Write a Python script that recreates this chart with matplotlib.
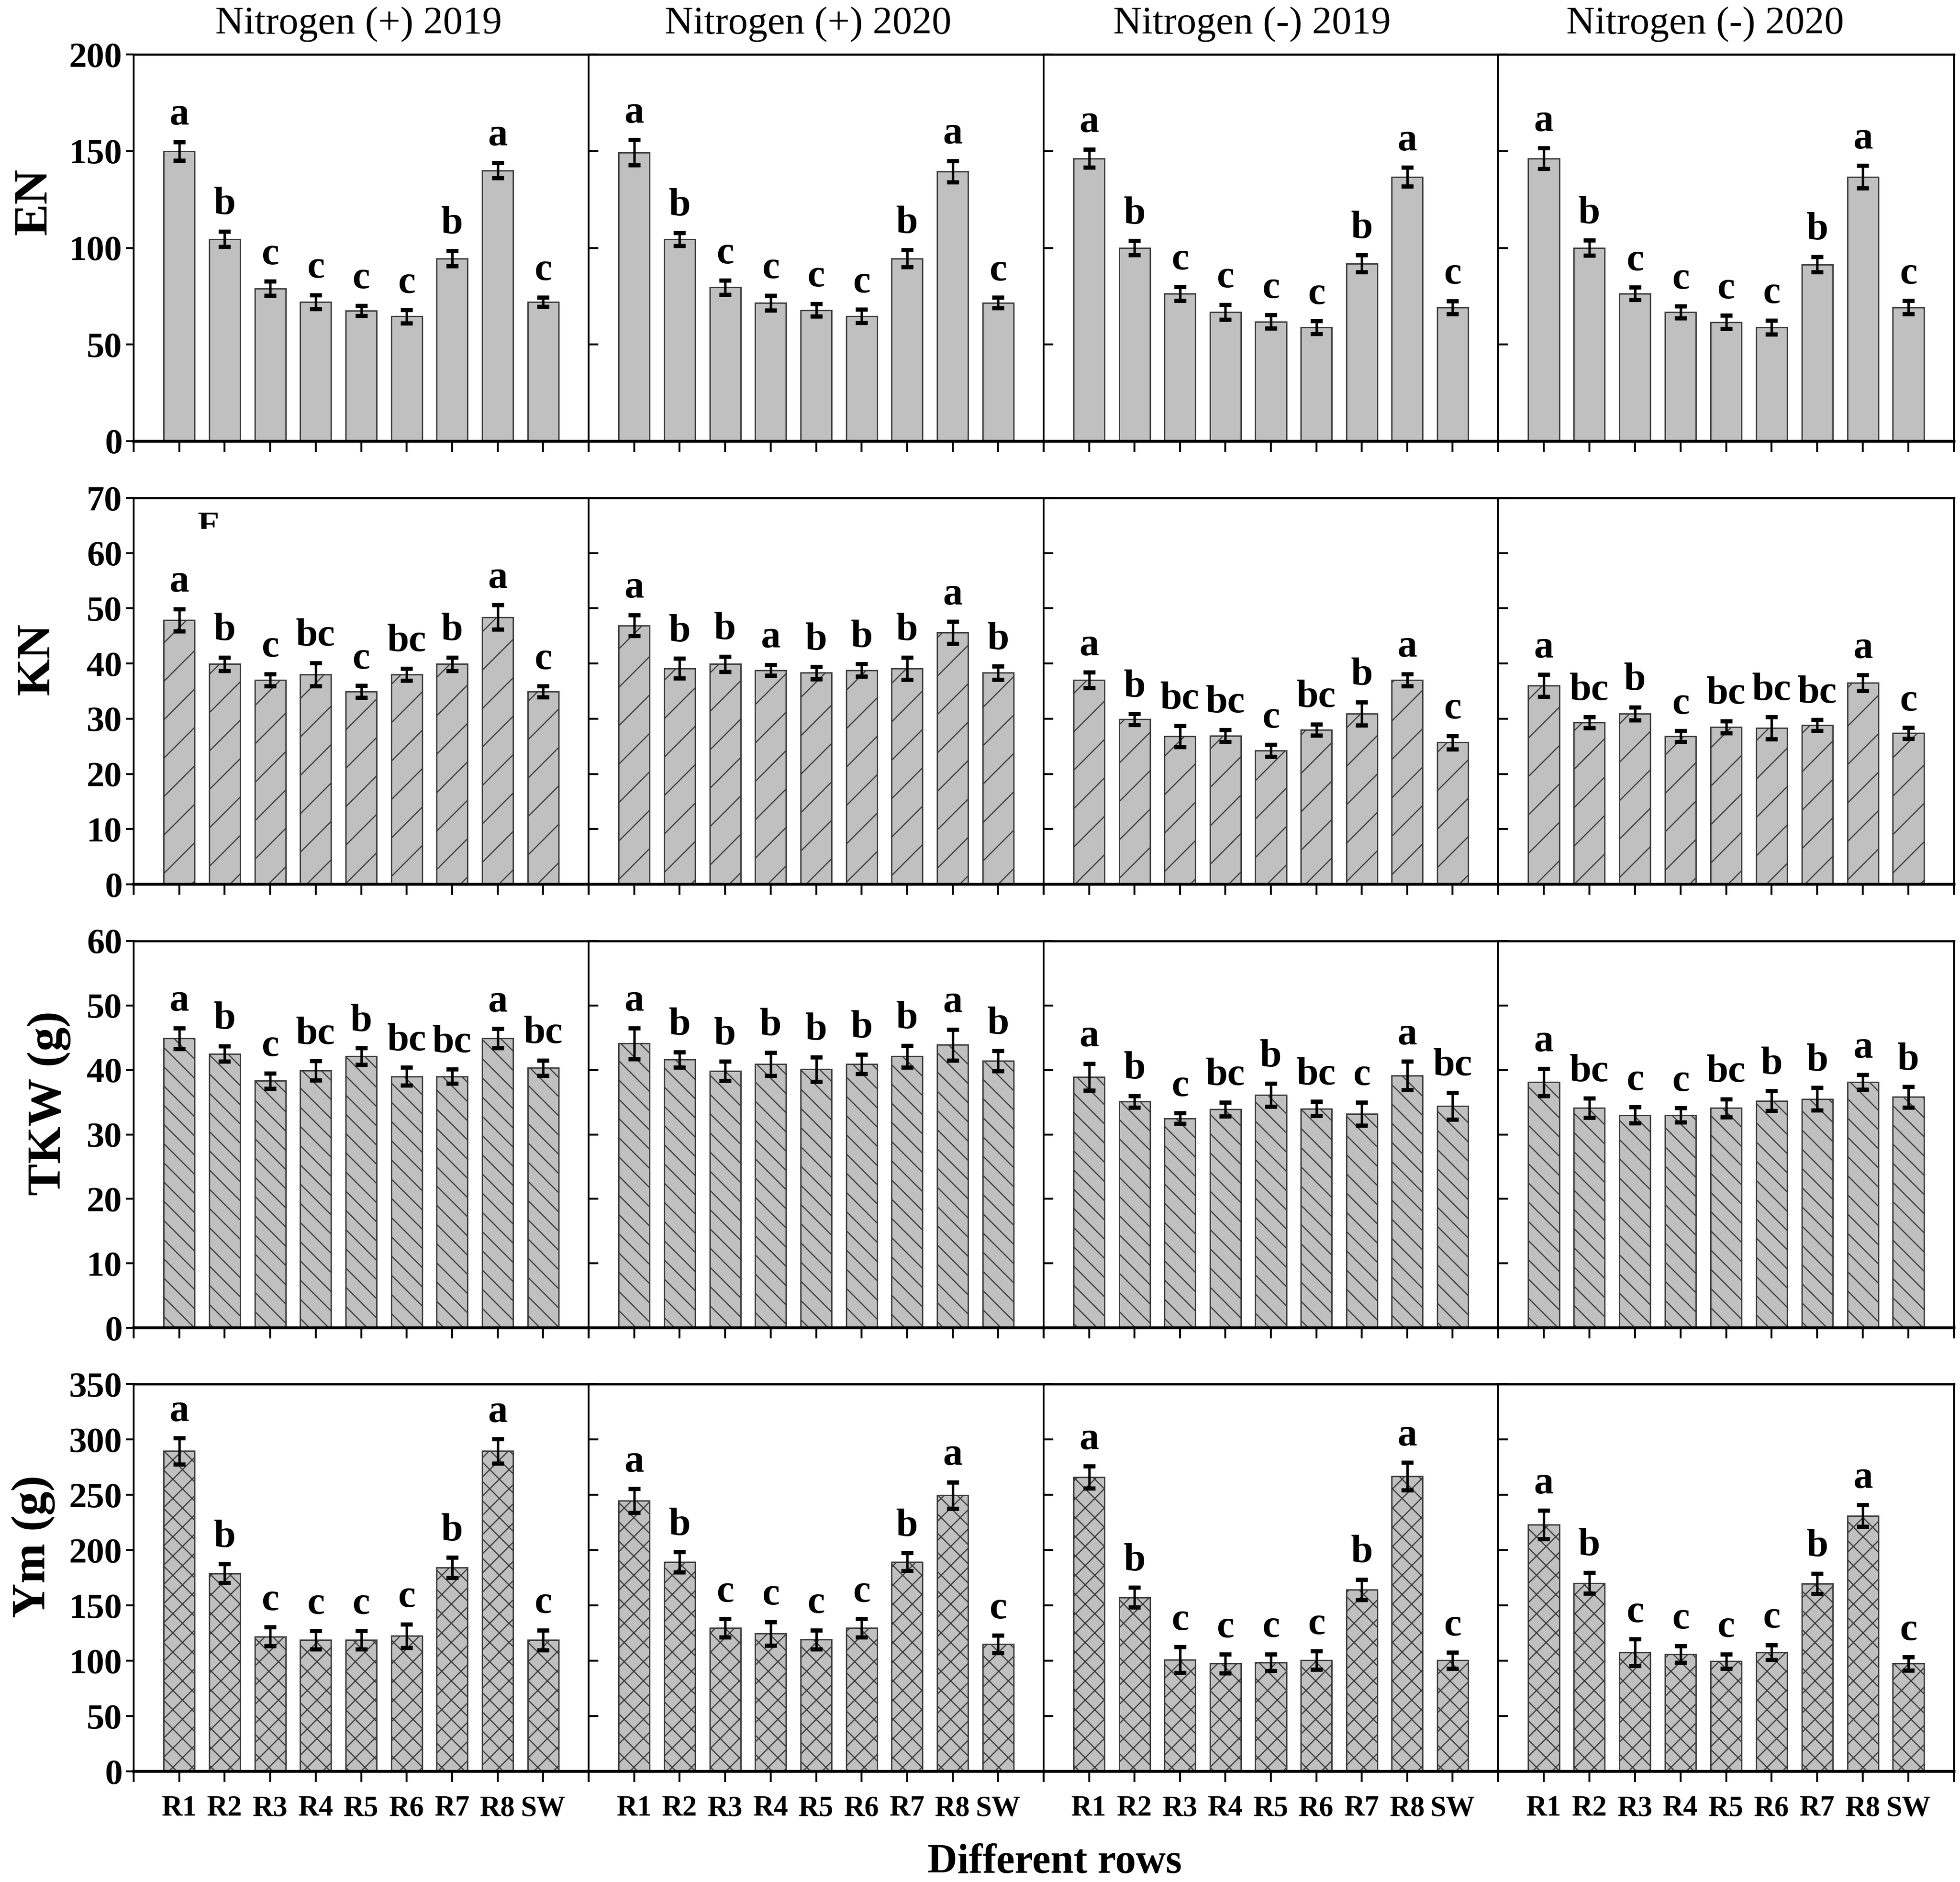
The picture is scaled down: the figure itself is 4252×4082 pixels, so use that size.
import matplotlib
matplotlib.use('Agg')
import matplotlib.pyplot as plt
from matplotlib.patches import Rectangle

# ---------------- data ----------------
categories = ['R1', 'R2', 'R3', 'R4', 'R5', 'R6', 'R7', 'R8', 'SW']
panel_titles = ['Nitrogen (+) 2019', 'Nitrogen (+) 2020',
                'Nitrogen (-) 2019', 'Nitrogen (-) 2020']
metric_labels = ['EN', 'KN', 'TKW (g)', 'Ym (g)']
y_max = [200, 70, 60, 350]
y_step = [50, 10, 10, 50]

en_means = [
    [150, 104.5, 79, 72, 67.5, 64.5, 94.5, 140, 72],
    [149.3, 104.4, 79.5, 71.6, 67.8, 64.7, 94.5, 139.5, 71.6],
    [146.2, 100, 76.3, 66.8, 61.8, 58.9, 91.8, 136.7, 69.2],
    [146.2, 100, 76.3, 66.8, 61.6, 58.9, 91.4, 136.7, 69.2],
]
en_errs = [
    [4.8, 4.0, 3.7, 3.6, 2.7, 3.4, 4.0, 4.0, 2.4],
    [6.5, 3.4, 3.6, 3.8, 3.3, 3.4, 4.4, 5.5, 2.7],
    [4.7, 3.6, 3.6, 3.8, 3.4, 3.3, 4.4, 4.8, 3.3],
    [5.3, 3.9, 3.2, 3.1, 3.4, 3.6, 4.0, 5.8, 3.4],
]
en_letters = [
    ['a', 'b', 'c', 'c', 'c', 'c', 'b', 'a', 'c'],
    ['a', 'b', 'c', 'c', 'c', 'c', 'b', 'a', 'c'],
    ['a', 'b', 'c', 'c', 'c', 'c', 'b', 'a', 'c'],
    ['a', 'b', 'c', 'c', 'c', 'c', 'b', 'a', 'c'],
]

kn_means = [
    [47.9, 39.9, 37, 38, 34.9, 38, 39.9, 48.4, 34.9],
    [46.9, 39.1, 39.9, 38.8, 38.3, 38.8, 39.1, 45.6, 38.3],
    [37, 29.9, 26.8, 26.9, 24.2, 28, 30.9, 37, 25.7],
    [36, 29.3, 30.9, 26.8, 28.5, 28.3, 28.8, 36.5, 27.4],
]
kn_errs = [
    [2.0, 1.2, 1.1, 2.1, 1.1, 1.1, 1.2, 2.2, 1.0],
    [1.9, 1.8, 1.4, 1.0, 1.1, 1.1, 2.0, 2.0, 1.2],
    [1.4, 1.0, 1.9, 1.1, 1.1, 1.0, 2.1, 1.1, 1.2],
    [2.0, 1.0, 1.2, 1.0, 1.1, 2.0, 1.0, 1.4, 1.0],
]
kn_letters = [
    ['a', 'b', 'c', 'bc', 'c', 'bc', 'b', 'a', 'c'],
    ['a', 'b', 'b', 'a', 'b', 'b', 'b', 'a', 'b'],
    ['a', 'b', 'bc', 'bc', 'c', 'bc', 'b', 'a', 'c'],
    ['a', 'bc', 'b', 'c', 'bc', 'bc', 'bc', 'a', 'c'],
]

tkw_means = [
    [44.9, 42.5, 38.3, 39.9, 42.1, 39, 39, 44.9, 40.3],
    [44.1, 41.6, 39.8, 40.9, 40.1, 40.9, 42.1, 43.9, 41.4],
    [38.9, 35.1, 32.5, 33.9, 36.1, 34.0, 33.2, 39.1, 34.4],
    [38.1, 34.1, 33, 33, 34.1, 35.2, 35.5, 38.1, 35.8],
]
tkw_errs = [
    [1.6, 1.2, 1.2, 1.5, 1.3, 1.4, 1.1, 1.5, 1.2],
    [2.4, 1.2, 1.5, 1.8, 1.9, 1.5, 1.7, 2.4, 1.55],
    [2.1, 0.9, 0.8, 1.1, 1.8, 1.1, 1.8, 2.2, 2.1],
    [2.1, 1.5, 1.25, 1.1, 1.4, 1.55, 1.75, 1.15, 1.6],
]
tkw_letters = [
    ['a', 'b', 'c', 'bc', 'b', 'bc', 'bc', 'a', 'bc'],
    ['a', 'b', 'b', 'b', 'b', 'b', 'b', 'a', 'b'],
    ['a', 'b', 'c', 'bc', 'b', 'bc', 'c', 'a', 'bc'],
    ['a', 'bc', 'c', 'c', 'bc', 'b', 'b', 'a', 'b'],
]

ym_means = [
    [289.4, 178.9, 121.8, 118.6, 118.6, 122.4, 184.2, 289.4, 118.6],
    [244.6, 189.2, 129.5, 124.4, 119, 129.5, 189.2, 249.4, 115],
    [265.7, 157.2, 100.9, 97.3, 98.5, 100.3, 164.2, 266.6, 100.3],
    [222.9, 170.2, 107.5, 106, 99.4, 107.5, 169.6, 231, 97.3],
]
ym_errs = [
    [11.8, 8.6, 8.5, 8.3, 8.3, 10.7, 9.0, 11.0, 9.0],
    [10.7, 9.0, 8.3, 10.8, 8.6, 8.3, 8.1, 11.9, 7.8],
    [10.0, 9.0, 11.6, 8.4, 7.5, 8.3, 9.3, 12.5, 7.2],
    [12.8, 9.5, 11.9, 7.5, 6.5, 6.8, 9.2, 9.8, 6.0],
]
ym_letters = [
    ['a', 'b', 'c', 'c', 'c', 'c', 'b', 'a', 'c'],
    ['a', 'b', 'c', 'c', 'c', 'c', 'b', 'a', 'c'],
    ['a', 'b', 'c', 'c', 'c', 'c', 'b', 'a', 'c'],
    ['a', 'b', 'c', 'c', 'c', 'c', 'b', 'a', 'c'],
]

all_means = [en_means, kn_means, tkw_means, ym_means]
all_errs = [en_errs, kn_errs, tkw_errs, ym_errs]
all_letters = [en_letters, kn_letters, tkw_letters, ym_letters]
row_hatches = [None, '/', '\\\\', 'xx']

# ---------------- style ----------------
SERIF = ['Liberation Serif', 'DejaVu Serif']
W, H = 4252, 4082
DPI = 250
S = 300.0 / DPI   # sizes below are tuned for 300 dpi; rescale to keep pixel sizes

plt.rcParams['font.family'] = SERIF
plt.rcParams['hatch.linewidth'] = 0.6 * S

fig = plt.figure(figsize=(W / DPI, H / DPI), dpi=DPI)

col_edges = [290, 1277, 2264, 3250, 4239]
row_tops = [118, 1080, 2041, 3002]
row_bottoms = [957, 1918, 2880, 3842]

x_pos = list(range(1, len(categories) + 1))

for r in range(4):
    for c in range(4):
        x0, x1 = col_edges[c], col_edges[c + 1]
        yt, yb = row_tops[r], row_bottoms[r]
        ax = fig.add_axes([x0 / W, 1 - yb / H, (x1 - x0) / W, (yb - yt) / H])
        means = all_means[r][c]
        errs = all_errs[r][c]
        letters = all_letters[r][c]
        ax.bar(x_pos, means, width=0.68, color='#c0c0c0', edgecolor='#3a3a3a',
               linewidth=0.7 * S, hatch=row_hatches[r], zorder=2)
        ax.errorbar(x_pos, means, yerr=errs, fmt='none', ecolor='black',
                    elinewidth=1.3 * S, capsize=3.2 * S, capthick=2.2 * S, zorder=3)
        for xi, m, e, lt in zip(x_pos, means, errs, letters):
            ax.annotate(lt, (xi, m + e), xytext=(0, 9 * S), textcoords='offset points',
                        ha='center', va='baseline', fontsize=20.5 * S, fontweight='bold',
                        family=SERIF, zorder=4)
        ax.set_xlim(0, 10)
        ax.set_ylim(0, y_max[r])
        ax.set_xticks(range(11))
        if r == 3:
            ax.set_xticklabels([''] + categories + [''], fontsize=15 * S,
                               fontweight='bold', family=SERIF)
        else:
            ax.set_xticklabels([''] * 11)
        yt_vals = list(range(0, y_max[r] + 1, y_step[r]))
        ax.set_yticks(yt_vals)
        if c == 0:
            ax.set_yticklabels([str(v) for v in yt_vals], fontsize=18.5 * S,
                               fontweight='bold', family=SERIF)
            ax.tick_params(axis='y', direction='out', length=4 * S, width=1.0 * S,
                           pad=2 * S)
        else:
            ax.set_yticklabels([''] * len(yt_vals))
            ax.tick_params(axis='y', direction='in', length=5 * S, width=1.0 * S)
        ax.tick_params(axis='x', direction='out', length=5.5 * S, width=1.0 * S,
                       pad=7 * S)
        ax.spines['top'].set_linewidth(1.1 * S)
        ax.spines['bottom'].set_linewidth(1.5 * S)
        ax.spines['left'].set_linewidth(0.9 * S)
        ax.spines['right'].set_linewidth(0.9 * S)
        if r == 1 and c == 0:
            ax.text(1.66, 67.6, 'E', ha='center', va='top', fontsize=18 * S,
                    fontweight='bold', family=SERIF, zorder=4)
            ax.add_patch(Rectangle((1.3, 60.5), 0.75, 3.9, facecolor='white',
                                   edgecolor='none', zorder=5))

# column titles
title_offsets = [-6, -18, -41, -45]
for c in range(4):
    cx = (col_edges[c] + col_edges[c + 1]) / 2 + title_offsets[c]
    fig.text(cx / W, 1 - 73 / H, panel_titles[c], ha='center', va='baseline',
             fontsize=20.5 * S, family=SERIF)

# row labels
ylab_x = [75, 81, 106, 72]
ylab_y = [438, 1430, 2393, 3354]
for r in range(4):
    fig.text(ylab_x[r] / W, 1 - ylab_y[r] / H, metric_labels[r], rotation=90,
             ha='center', va='center', fontsize=25 * S, fontweight='bold', family=SERIF)

fig.text(2288 / W, 1 - 4062 / H, 'Different rows', ha='center', va='baseline',
         fontsize=21.5 * S, fontweight='bold', family=SERIF)

fig.savefig('out.png', dpi=DPI)
